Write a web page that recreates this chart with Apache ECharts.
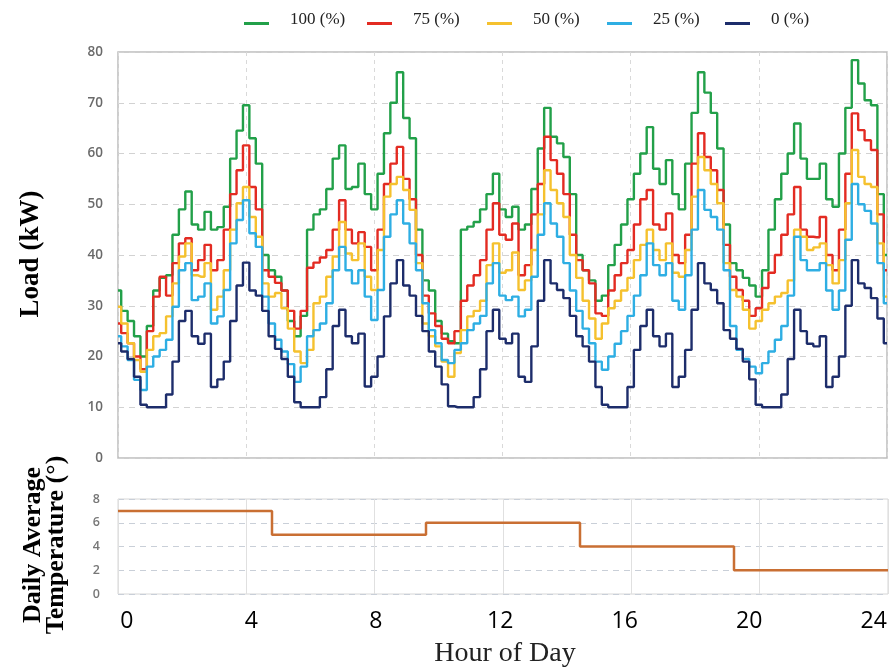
<!DOCTYPE html>
<html>
<head>
<meta charset="utf-8">
<script src="https://cdn.jsdelivr.net/npm/echarts@6/dist/echarts.min.js"></script>
<style>
  html, body { margin: 0; padding: 0; background: #ffffff; }
  #chart { width: 892px; height: 670px; }
</style>
</head>
<body>
<div id="chart"></div>
<script>
// Load profiles (kW) sampled every 0.2 h, one line per day block
const load100 = [
  33, 29, 27, 24, 20, 26, 33, 35.5, 36, 44, 49, 52.5, 46, 45, 48.5, 45, 45.5, 49.5, 59, 64.5, 69.5, 63, 58, 40,
  37, 35.7, 33, 27, 24, 28, 45, 48, 49, 53, 59, 61.6, 53, 53.4, 58, 52, 49, 56, 64, 70, 76, 67, 63, 45,
  35, 33, 27, 24.5, 23, 22.6, 45, 45.6, 46.5, 49, 52, 56, 49, 47.5, 49.5, 45, 46, 53, 61, 69, 63.3, 62, 59.3, 52,
  40, 37, 35, 31, 32, 38, 42, 46, 51, 56, 60, 65.2, 57, 54, 58.7, 52, 49, 58, 68, 76, 72, 68, 61, 46,
  38.4, 37, 35.5, 34, 31.8, 37, 45, 51, 56, 60, 65.9, 59, 55, 55, 58, 51, 49.5, 60, 69, 78.4, 73.8, 70.5, 69.5, 52, 40
];
const load75 = [
  26.5, 24.6, 22.6, 20, 17.5, 25, 31.8, 35.7, 32, 38.4, 42.3, 43.3, 37, 39, 42, 37, 39, 45, 52, 56.7, 61.6, 53.4, 49, 37,
  35.7, 34.5, 33, 29, 25.5, 29, 37.5, 38.5, 39.5, 41, 45, 50.8, 45, 42.3, 44.5, 41.6, 37, 45, 54, 58, 61.3, 55, 51, 40,
  32, 28.5, 26, 23.5, 22.6, 25, 31, 34, 36, 39, 45, 50.2, 44, 43, 46.2, 36, 38, 48, 54, 63.3, 58.7, 56, 52, 44,
  39, 37, 34.4, 28.5, 28, 33, 36, 38.4, 41, 46, 51, 52.8, 46, 45, 48.2, 40, 38.4, 44, 58, 64, 59.3, 56.7, 52.8, 42,
  35.7, 33.1, 31, 28, 29.5, 33.5, 36.5, 40, 44, 48, 53.4, 45, 43.6, 43.5, 47.5, 40, 37, 45, 56, 67.9, 64.6, 62.6, 60.7, 48, 37
];
const load50 = [
  29.8, 26.5, 22.6, 19.3, 17, 21.3, 24, 24.6, 27.9, 34.4, 39.7, 42.3, 36, 35.7, 38.4, 29.2, 31.8, 37, 45, 50.2, 53.4, 47.5, 43.6, 34.4,
  31.8, 32.5, 29.5, 25.5, 21, 18.7, 21.3, 30.5, 31.8, 35.7, 39.7, 46.5, 40.3, 39, 42.3, 35.7, 33.1, 41, 51.5, 54, 55.4, 52.8, 48.9, 38.4,
  26.5, 24, 22, 19, 16, 20.7, 25.2, 27.9, 29, 31, 38, 42.3, 36.5, 37, 40.5, 33.1, 35, 41, 48, 56.7, 52.8, 50.2, 47.5, 40,
  35.5, 31, 27.5, 23.5, 26.5, 29.5, 31, 33, 35.5, 39, 42, 45, 41, 39, 42.3, 36.5, 35.7, 41, 51.5, 59.3, 56.7, 54, 50.2, 38.4,
  33.1, 31.8, 29.2, 25.5, 27, 29.2, 30.5, 31.8, 32.5, 35, 45, 43.6, 41, 41.5, 42.3, 38, 34.4, 39, 50.2, 60.7, 55.4, 54, 53.4, 42.3, 31.8
];
const load25 = [
  24, 22, 19.3, 15.4, 13.4, 18, 20, 21.3, 23.3, 29.8, 37, 38.4, 31.1, 31.8, 34.4, 26.5, 27.9, 33.1, 42.3, 46.9, 50.8, 44.3, 41.6, 31.8,
  26.5, 23.3, 21, 18.5, 15, 18, 24, 25.2, 26.5, 30.5, 37, 41.6, 37, 34.4, 37, 31.8, 27.2, 33.1, 43.6, 48, 50.8, 46.2, 42.3, 37,
  30.5, 25.2, 22.6, 19.3, 18.7, 21.3, 22.6, 25.2, 26.5, 28, 34.4, 38.4, 32, 31.1, 31.8, 27.9, 29.2, 35.7, 44, 50.2, 46.2, 43.6, 38.4, 33,
  29, 25.5, 22.6, 19, 17.4, 20, 22.5, 25, 28, 32, 36, 42.3, 38, 36, 38.4, 31, 29.2, 36, 45, 52.8, 48.9, 47.5, 45, 37,
  26, 21.3, 19.5, 18, 16.7, 18.7, 21, 23.3, 26, 32, 43.6, 39, 37, 37, 38.4, 33, 29.2, 33, 43, 54, 50, 48.7, 46.2, 38.4, 30.5
];
const load0 = [
  22.6, 21, 19.5, 16, 10.5, 10, 10, 10, 12.5, 19, 27, 29, 24, 22.5, 24.5, 14, 15.5, 19, 27, 34, 38.5, 33, 32, 29,
  24, 21.5, 19.5, 16, 11, 10, 10, 10, 12, 17.5, 26, 29.2, 24, 22.6, 24.5, 14.1, 16, 20, 27.9, 34.4, 39, 34, 32, 28,
  25, 21, 18, 14.5, 10.2, 10, 10, 10, 12, 17.5, 25, 29.2, 23.5, 22.6, 24.5, 16, 15, 22, 31, 39, 34.4, 33.1, 31.5, 28,
  24, 22, 19, 14, 10.5, 10, 10, 10, 14, 21.3, 26, 29.2, 24, 22, 24.5, 14, 16, 21.3, 29.2, 38.4, 34.4, 33.1, 30.5, 25.2,
  23.5, 21.5, 19, 15.5, 10.5, 10, 10, 10, 12.5, 19.5, 29.2, 25, 22.5, 22, 24, 14, 16, 20, 30, 39, 34.4, 33.5, 31.5, 27.5, 22.6
];

// Daily average temperature: value holds from each change point to the next
const tempChangeHours = [0, 4.8, 9.6, 14.4, 19.2, 24];
const dailyAvgTemp = [7, 5, 6, 4, 2, 2];

const seriesNames = ['100 (%)', '75 (%)', '50 (%)', '25 (%)', '0 (%)'];
const hourTickLabels = [0, 4, 8, 12, 16, 20, 24];

const SAMPLE_STEP = 0.2;
const sampleHours = load100.map((_, i) => +(i * SAMPLE_STEP).toFixed(1));

const loadSeries = [load100, load75, load50, load25, load0];
const seriesColors = ['#22a049', '#e32b22', '#f5c12e', '#2eaee3', '#1d2d6b'];
const legendLeft = [244, 367, 487, 607, 725];

const serif = '"Liberation Serif", "Times New Roman", serif';
const sans = '"Open Sans", "Liberation Sans", sans-serif';

const chart = echarts.init(document.getElementById('chart'), null, { renderer: 'canvas' });

const option = {
  animation: false,
  backgroundColor: '#ffffff',
  legend: seriesNames.map((name, k) => ({
    data: [name],
    left: legendLeft[k],
    top: 11,
    padding: 0,
    icon: 'rect',
    itemWidth: 25,
    itemHeight: 3,
    selectedMode: false,
    formatter: n => '{t|' + n + '}',
    textStyle: {
      rich: {
        t: { fontFamily: serif, fontSize: 17, color: '#222', lineHeight: 16, padding: [0, 0, 8, 16] }
      }
    }
  })),
  grid: [
    { left: 118, top: 52, width: 769, height: 406, show: true, borderColor: '#bdbdbd', borderWidth: 1.5, backgroundColor: 'transparent' },
    { left: 118, top: 499, width: 770, height: 95, show: true, borderColor: '#d6d6d6', borderWidth: 1, backgroundColor: 'transparent' }
  ],
  xAxis: [
    {
      type: 'value', gridIndex: 0, position: 'bottom', min: 0, max: 24, interval: 4,
      axisLine: { show: false }, axisTick: { show: false }, axisLabel: { show: false },
      splitLine: { show: true, lineStyle: { color: '#d9d9d9', type: [4, 4], width: 1 } }
    },
    {
      type: 'value', gridIndex: 1, position: 'top', min: 0, max: 24, interval: 4,
      axisLine: { show: false }, axisTick: { show: false }, axisLabel: { show: false },
      splitLine: { show: true, lineStyle: { color: '#e0e0e0', width: 1 } }
    },
    {
      // hour labels under the temperature panel
      type: 'value', gridIndex: 1, position: 'bottom', min: -0.28, max: 24.46,
      axisLine: { show: false }, axisTick: { show: false }, splitLine: { show: false },
      axisLabel: {
        show: true, customValues: hourTickLabels, margin: 16,
        fontFamily: sans, fontSize: 23, color: '#000'
      }
    }
  ],
  yAxis: [
    {
      type: 'value', gridIndex: 0, min: 0, max: 80, interval: 10,
      axisLine: { show: false }, axisTick: { show: false },
      axisLabel: { margin: 15, fontFamily: sans, fontSize: 13.5, fontWeight: 600, color: '#6a6a6a' },
      splitLine: { show: true, lineStyle: { color: '#d2d2d2', type: [6, 5], width: 1 } }
    },
    {
      type: 'value', gridIndex: 1, min: 0, max: 8, interval: 2,
      axisLine: { show: false }, axisTick: { show: false },
      axisLabel: { margin: 18, fontFamily: sans, fontSize: 12.5, fontWeight: 600, color: '#777' },
      splitLine: { show: true, lineStyle: { color: '#c9cfd8', type: [6, 5], width: 1 } }
    }
  ],
  series: loadSeries.map((vals, k) => ({
    name: seriesNames[k],
    type: 'line',
    xAxisIndex: 0,
    yAxisIndex: 0,
    step: 'middle',
    symbol: 'none',
    showSymbol: false,
    silent: true,
    z: 2 + k,
    data: sampleHours.map((h, i) => [h, vals[i]]),
    lineStyle: { color: seriesColors[k], width: 2.4 },
    itemStyle: { color: seriesColors[k] }
  })).concat([{
    name: 'Daily Average Temperature',
    type: 'line',
    xAxisIndex: 1,
    yAxisIndex: 1,
    step: 'end',
    symbol: 'none',
    silent: true,
    data: tempChangeHours.map((h, i) => [h, dailyAvgTemp[i]]),
    lineStyle: { color: '#c96f33', width: 2.5 },
    itemStyle: { color: '#c96f33' }
  }]),
  graphic: [
    {
      type: 'text', x: 31, y: 254, rotation: Math.PI / 2,
      style: {
        text: 'Load (kW)', font: 'bold 27px ' + serif, fill: '#000',
        align: 'center', verticalAlign: 'middle', textAlign: 'center', textVerticalAlign: 'middle'
      }
    },
    {
      type: 'text', x: 45, y: 545, rotation: Math.PI / 2,
      style: {
        text: 'Daily Average\nTemperature (°)', font: 'bold 26px ' + serif, fill: '#000', lineHeight: 23,
        align: 'center', verticalAlign: 'middle', textAlign: 'center', textVerticalAlign: 'middle'
      }
    },
    {
      type: 'text', x: 505, y: 654,
      style: {
        text: 'Hour of Day', font: '28px ' + serif, fill: '#222',
        align: 'center', verticalAlign: 'middle', textAlign: 'center', textVerticalAlign: 'middle'
      }
    }
  ]
};

chart.setOption(option);
</script>
</body>
</html>
